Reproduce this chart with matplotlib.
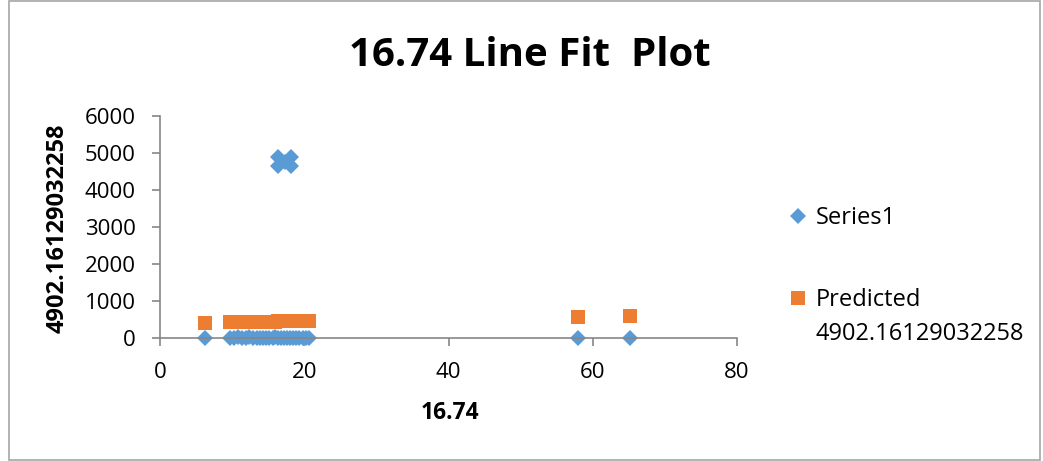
import matplotlib
matplotlib.use("Agg")
import matplotlib.pyplot as plt
from matplotlib.patches import Rectangle

plt.rcParams['font.family'] = ['Open Sans', 'DejaVu Sans']

# ---- data ----
x_values = [6.3, 9.7, 10.2, 10.8, 11.3, 11.9, 12.4, 12.9, 13.4, 13.8, 14.3, 14.7,
            15.1, 15.6, 16.0, 16.4, 16.8, 17.2, 17.6, 18.0, 18.4, 18.8, 19.3,
            19.8, 20.2, 20.6, 58.0, 65.2,
            16.4, 18.2, 16.4, 18.2, 17.3]
series1 = [8, 12, 10, 15, 9, 11, 14, 10, 12, 9, 13, 11,
           10, 12, 14, 9, 11, 13, 10, 12, 9, 11, 13,
           10, 12, 9, 6, 4,
           4890, 4890, 4640, 4640, 4760]
predicted = [414, 425, 427, 428, 430, 432, 433, 435, 437, 438, 439, 441,
             442, 443, 445, 446, 447, 448, 450, 451, 452, 453, 455,
             456, 458, 459, 575, 597,
             446, 451, 446, 451, 449]
x_ticks = [0, 20, 40, 60, 80]
y_ticks = [0, 1000, 2000, 3000, 4000, 5000, 6000]

title = "16.74 Line Fit  Plot"
x_label = "16.74"
y_label = "4902.16129032258"
series_names = ["Series1", "Predicted", "4902.16129032258"]

BLUE = "#5B9BD5"
ORANGE = "#ED7D31"
GRAY = "#868686"

W, H = 1043, 461
fig = plt.figure(figsize=(W / 100, H / 100), dpi=100)
ax = fig.add_axes([160 / W, (H - 338) / H, 577 / W, 222 / H])

l1, = ax.plot(x_values, series1, linestyle="none", marker="D", markersize=8.5,
              color=BLUE, markeredgewidth=0, label=series_names[0])
l2, = ax.plot(x_values, predicted, linestyle="none", marker="s", markersize=10,
              color=ORANGE, markeredgewidth=0, label=series_names[1])

ax.set_xlim(0, 80)
ax.set_ylim(0, 6000)
ax.set_xticks(x_ticks)
ax.set_yticks(y_ticks)
for s in ["top", "right"]:
    ax.spines[s].set_visible(False)
for s in ["left", "bottom"]:
    ax.spines[s].set_color(GRAY)
    ax.spines[s].set_linewidth(1.2)
ax.tick_params(axis="both", colors=GRAY, labelcolor="black", labelsize=16,
               length=6, width=1.2, direction="out")
ax.tick_params(axis="y", pad=11.5)
ax.tick_params(axis="x", pad=11)
l1.set_clip_on(False)
l2.set_clip_on(False)

fig.text(530 / W, 1 - 55 / H, title, ha="center", va="center",
         fontsize=29, fontweight="bold")
fig.text(450 / W, 1 - 413 / H, x_label, ha="center", va="center",
         fontsize=16.5, fontweight="bold")
fig.text(58 / W, 1 - 228 / H, y_label, ha="center", va="center",
         fontsize=17, fontweight="bold", rotation=90)

leg = fig.legend(handles=[l1, l2], loc="upper left",
                 bbox_to_anchor=(792 / W, 1 - 206 / H),
                 frameon=False, fontsize=17, handlelength=0.55,
                 handletextpad=0.45, labelspacing=2.45, borderpad=0,
                 borderaxespad=0)
fig.canvas.draw()
# second line of the "Predicted" legend entry, right below it
bb = leg.texts[1].get_window_extent()
fig.text(bb.x0 / W, ((bb.y0 + bb.y1) / 2 - 34) / H, series_names[2],
         fontsize=17, ha="left", va="center")

fig.patches.append(Rectangle((8.5 / W, 1.5 / H), (1040 - 8.5) / W, (459.5 - 1.5) / H,
                             transform=fig.transFigure, fill=False,
                             edgecolor="#A6A6A6", linewidth=1.2))

fig.savefig("out.png", dpi=100)
